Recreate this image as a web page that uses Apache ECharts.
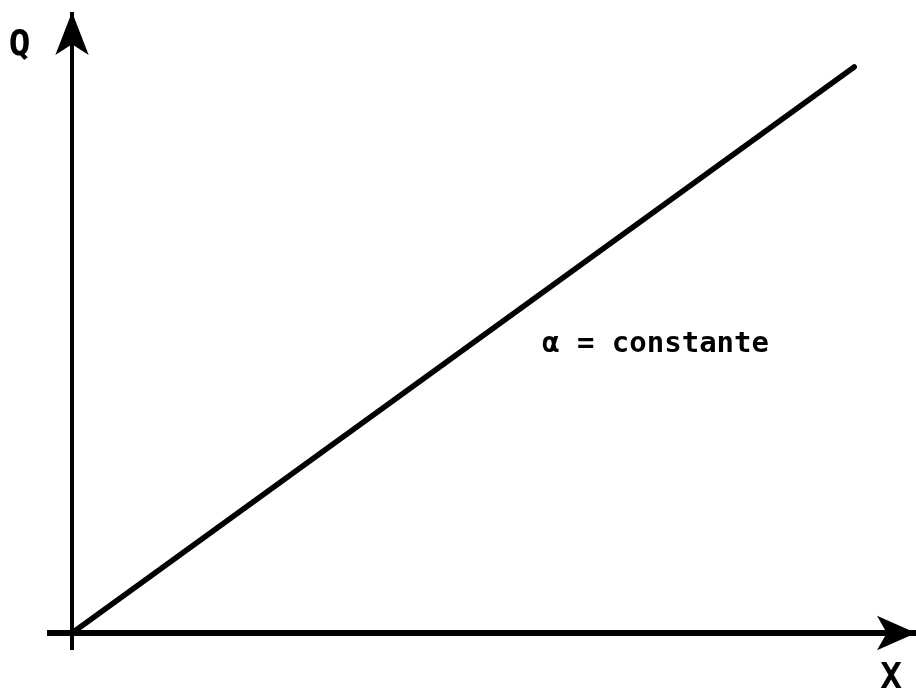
<!DOCTYPE html>
<html>
<head>
<meta charset="utf-8">
<script src="https://cdn.jsdelivr.net/npm/echarts@6/dist/echarts.min.js"></script>
<style>html,body{margin:0;padding:0;background:#fff;}#c{width:916px;height:692px;}</style>
</head>
<body>
<div id="c"></div>
<script>
// Data (arbitrary units: line passes through origin, alpha = constant)
var xValues = [0, 10];
var qValues = [0, 10];
var axisNames = {x: 'X', y: 'Q'};
var curveLabel = 'α = constante';

var chart = echarts.init(document.getElementById('c'), null, {renderer: 'canvas'});
var lineData = xValues.map(function (x, i) { return [x, qValues[i]]; });

var option = {
  backgroundColor: '#ffffff',
  animation: false,
  grid: {left: 47, right: 0, top: 12, bottom: 42, containLabel: false},
  xAxis: {
    type: 'value', min: -0.32, max: 10.79,
    axisLine: {show: true, onZero: true, symbol: ['none', 'arrow'], symbolSize: [26, 39],
      lineStyle: {color: '#000', width: 6, cap: 'butt'}},
    axisTick: {show: false}, axisLabel: {show: false}, splitLine: {show: false}
  },
  yAxis: {
    type: 'value', min: -0.3, max: 10.97,
    axisLine: {show: true, onZero: true, symbol: ['none', 'arrow'], symbolSize: [25, 43],
      lineStyle: {color: '#000', width: 4, cap: 'butt'}},
    axisTick: {show: false}, axisLabel: {show: false}, splitLine: {show: false}
  },
  series: [{
    type: 'line', data: lineData, symbol: 'none',
    lineStyle: {color: '#000', width: 5.5, cap: 'round'}
  }],
  graphic: [
    {type: 'text', x: 19.5, y: 45.5, style: {text: axisNames.y, font: 'bold 36px "DejaVu Sans Mono"', fill: '#000', textAlign: 'center', textVerticalAlign: 'middle'}},
    {type: 'text', x: 891, y: 678.5, style: {text: axisNames.x, font: 'bold 36px "DejaVu Sans Mono"', fill: '#000', textAlign: 'center', textVerticalAlign: 'middle'}},
    {type: 'text', x: 542, y: 344, style: {text: curveLabel, font: 'bold 29px "DejaVu Sans Mono"', fill: '#000', textAlign: 'left', textVerticalAlign: 'middle'}}
  ]
};
chart.setOption(option);
</script>
</body>
</html>
